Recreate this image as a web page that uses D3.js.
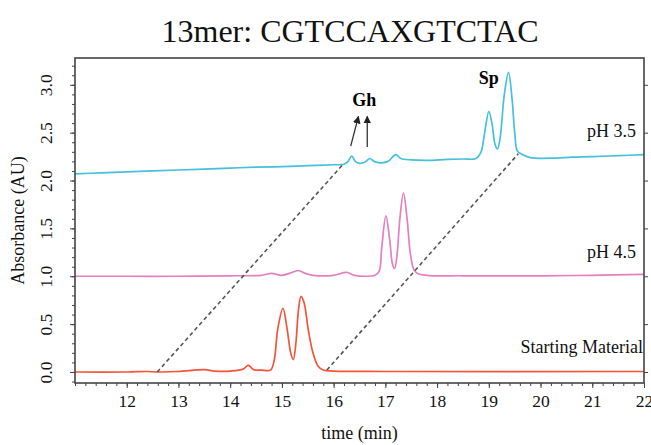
<!DOCTYPE html>
<html>
<head>
<meta charset="utf-8">
<script src="https://cdn.jsdelivr.net/npm/d3@7"></script>
<style>
  body { margin: 0; background: #fff; }
  text { font-family: "Liberation Serif", "Times New Roman", serif; }
</style>
</head>
<body>
<svg></svg>
<script>
// chromatogram traces (time in min, absorbance in AU)
const cyanTime = [11.0, 11.5, 12.0, 12.5, 13.0, 13.5, 14.0, 14.5, 15.0, 15.5, 16.0, 16.2, 16.28, 16.35, 16.42, 16.5, 16.6, 16.7, 16.78, 16.9, 17.05, 17.2, 17.3, 17.5, 17.8, 18.2, 18.5, 18.75, 18.85, 18.92, 19.0, 19.06, 19.12, 19.17, 19.22, 19.3, 19.38, 19.45, 19.5, 19.55, 19.62, 19.8, 20.3, 20.6, 21.0, 21.5, 22.0];
const cyanAbs = [2.07, 2.08, 2.09, 2.10, 2.11, 2.12, 2.13, 2.14, 2.145, 2.155, 2.165, 2.17, 2.2, 2.255, 2.2, 2.18, 2.19, 2.23, 2.2, 2.185, 2.2, 2.27, 2.23, 2.215, 2.21, 2.22, 2.225, 2.23, 2.3, 2.5, 2.72, 2.6, 2.38, 2.33, 2.45, 2.9, 3.13, 2.85, 2.5, 2.31, 2.28, 2.24, 2.235, 2.245, 2.25, 2.26, 2.27];

const pinkTime = [11.0, 12.0, 13.0, 14.0, 14.6, 14.8, 15.0, 15.2, 15.32, 15.45, 15.6, 16.0, 16.25, 16.4, 16.8, 16.88, 16.93, 17.01, 17.08, 17.14, 17.18, 17.23, 17.28, 17.35, 17.42, 17.48, 17.55, 17.62, 17.8, 18.5, 20.0, 21.0, 22.0];
const pinkAbs = [1.0, 1.0, 1.0, 1.005, 1.01, 1.03, 1.01, 1.04, 1.06, 1.03, 1.01, 1.01, 1.04, 1.01, 1.01, 1.05, 1.3, 1.63, 1.4, 1.12, 1.08, 1.25, 1.6, 1.87, 1.6, 1.25, 1.07, 1.03, 1.01, 1.005, 1.005, 1.01, 1.02];

const redTime = [11.0, 12.0, 12.4, 12.6, 13.0, 13.5, 13.7, 14.0, 14.25, 14.35, 14.45, 14.6, 14.78, 14.85, 14.92, 15.02, 15.1, 15.17, 15.22, 15.27, 15.32, 15.37, 15.43, 15.51, 15.6, 15.7, 15.8, 16.0, 17.0, 22.0];
const redAbs = [0.0, 0.0, 0.005, 0.0, 0.005, 0.025, 0.01, 0.01, 0.03, 0.07, 0.025, 0.02, 0.02, 0.12, 0.45, 0.665, 0.45, 0.2, 0.13, 0.3, 0.65, 0.79, 0.72, 0.44, 0.2, 0.06, 0.02, 0.01, 0.005, 0.005];

const traceNames = ["pH 3.5", "pH 4.5", "Starting Material"];
const traceColors = ["#45c0de", "#e67fc0", "#f4553a"];
const labelAbs = [2.45, 1.19, 0.2];

// dashed guides: start/end time and absorbance
const guideTime = [[12.59, 16.2], [15.87, 19.57]];
const guideAbs = [[0.0, 2.18], [0.02, 2.28]];

// Gh arrows: tail/tip
const arrowTime = [[16.33, 16.48], [16.65, 16.65]];
const arrowAbs = [[2.36, 2.67], [2.35, 2.67]];

const xTicks = [12, 13, 14, 15, 16, 17, 18, 19, 20, 21, 22];
const yTicks = [0, 0.5, 1.0, 1.5, 2.0, 2.5, 3.0];

const margin = ({ top: 58, right: 7, bottom: 62, left: 75 }),
    width = 651,
    height = 445;

const svg = d3.select("svg")
    .attr("width", width)
    .attr("height", height);

const x = d3.scaleLinear()
    .domain([11, 22])
    .range([margin.left, width - margin.right]);

const y = d3.scaleLinear()
    .domain([-0.115, 3.28])
    .range([height - margin.bottom, margin.top]);

// minor ticks
const xMinor = d3.range(11, 22.01, 0.2).map(d => +d.toFixed(1));
const yMinor = d3.range(-0.1, 3.25, 0.1).map(d => +d.toFixed(1));

svg.append("g")
    .attr("transform", `translate(0,${height - margin.bottom})`)
    .call(d3.axisBottom(x).tickValues(xMinor).tickSize(3).tickFormat(""))
    .call(g => g.select(".domain").remove())
    .selectAll("line").attr("stroke", "#444");

svg.append("g")
    .attr("transform", `translate(${margin.left},0)`)
    .call(d3.axisLeft(y).tickValues(yMinor).tickSize(3).tickFormat(""))
    .call(g => g.select(".domain").remove())
    .selectAll("line").attr("stroke", "#444");

// major ticks
const xAxis = g => g
    .attr("transform", `translate(0,${height - margin.bottom})`)
    .call(d3.axisBottom(x).tickValues(xTicks).tickSize(5).tickPadding(7).tickFormat(d3.format("d")))
    .call(g => g.select(".domain").remove())
    .call(g => g.selectAll("line").attr("stroke", "#444"))
    .call(g => g.selectAll("text")
        .attr("font-size", 17.5)
        .attr("fill", "#111"));

const yAxis = g => g
    .attr("transform", `translate(${margin.left},0)`)
    .call(d3.axisLeft(y).tickValues(yTicks).tickSize(5).tickFormat(d3.format(".1f")))
    .call(g => g.select(".domain").remove())
    .call(g => g.selectAll("line").attr("stroke", "#444"))
    .call(g => g.selectAll("text")
        .attr("x", null)
        .attr("dy", null)
        .attr("transform", "translate(-23,0) rotate(-90)")
        .attr("text-anchor", "middle")
        .attr("font-size", 17.5)
        .attr("fill", "#111"));

const yAxisRight = g => g
    .attr("transform", `translate(${width - margin.right},0)`)
    .call(d3.axisRight(y).tickValues(yTicks).tickSize(4).tickFormat(""))
    .call(g => g.select(".domain").remove())
    .selectAll("line").attr("stroke", "#444");

svg.append("g").call(xAxis);
svg.append("g").call(yAxis);
svg.append("g").call(yAxisRight);

// traces
const traces = [
    d3.zip(cyanTime, cyanAbs),
    d3.zip(pinkTime, pinkAbs),
    d3.zip(redTime, redAbs)
];

const line = d3.line()
    .x(d => x(d[0]))
    .y(d => y(d[1]))
    .curve(d3.curveCatmullRom.alpha(0.5));

svg.append("g")
    .selectAll("path").data(traces).enter().append("path")
    .attr("d", line)
    .attr("fill", "none")
    .attr("stroke", (d, i) => traceColors[i])
    .attr("stroke-width", 1.7);

// dashed guides
svg.append("g")
    .selectAll("line").data(guideTime).enter().append("line")
    .attr("x1", d => x(d[0]))
    .attr("x2", d => x(d[1]))
    .attr("y1", (d, i) => y(guideAbs[i][0]))
    .attr("y2", (d, i) => y(guideAbs[i][1]))
    .attr("stroke", "#555")
    .attr("stroke-width", 1.6)
    .attr("stroke-dasharray", "4,3");

// frame
svg.append("rect")
    .attr("x", margin.left)
    .attr("y", margin.top)
    .attr("width", width - margin.left - margin.right)
    .attr("height", height - margin.top - margin.bottom)
    .attr("fill", "none")
    .attr("stroke", "#444")
    .attr("stroke-width", 1.6);

// arrows for Gh
svg.append("defs").append("marker")
    .attr("id", "head")
    .attr("viewBox", "0 0 10 10")
    .attr("refX", 9)
    .attr("refY", 5)
    .attr("markerWidth", 6)
    .attr("markerHeight", 7)
    .attr("orient", "auto")
    .append("path")
    .attr("d", "M0,0L10,5L0,10z")
    .attr("fill", "#222");

svg.append("g")
    .selectAll("line").data(arrowTime).enter().append("line")
    .attr("x1", d => x(d[0]))
    .attr("x2", d => x(d[1]))
    .attr("y1", (d, i) => y(arrowAbs[i][0]))
    .attr("y2", (d, i) => y(arrowAbs[i][1]))
    .attr("stroke", "#333")
    .attr("stroke-width", 1.3)
    .attr("marker-end", "url(#head)");

svg.append("text")
    .attr("x", x(16.59))
    .attr("y", y(2.78))
    .attr("text-anchor", "middle")
    .attr("font-size", 18)
    .attr("font-weight", "bold")
    .text("Gh");

svg.append("text")
    .attr("x", x(19.0))
    .attr("y", y(3.01))
    .attr("text-anchor", "middle")
    .attr("font-size", 18)
    .attr("font-weight", "bold")
    .text("Sp");

// trace labels
svg.append("g")
    .selectAll("text").data(traceNames).enter().append("text")
    .attr("x", (d, i) => i === 2 ? width - margin.right - 1 : width - margin.right - 8)
    .attr("y", (d, i) => y(labelAbs[i]))
    .attr("text-anchor", "end")
    .attr("font-size", 18)
    .attr("fill", "#111")
    .text(d => d);

// titles
svg.append("text")
    .attr("x", 350)
    .attr("y", 42)
    .attr("text-anchor", "middle")
    .attr("font-size", 32)
    .attr("fill", "#111")
    .text("13mer: CGTCCAXGTCTAC");

svg.append("text")
    .attr("transform", `translate(24,${(margin.top + height - margin.bottom) / 2}) rotate(-90)`)
    .attr("text-anchor", "middle")
    .attr("font-size", 18)
    .attr("fill", "#111")
    .text("Absorbance (AU)");

svg.append("text")
    .attr("x", (margin.left + width - margin.right) / 2)
    .attr("y", 439)
    .attr("text-anchor", "middle")
    .attr("font-size", 18)
    .attr("fill", "#111")
    .text("time (min)");
</script>
</body>
</html>
